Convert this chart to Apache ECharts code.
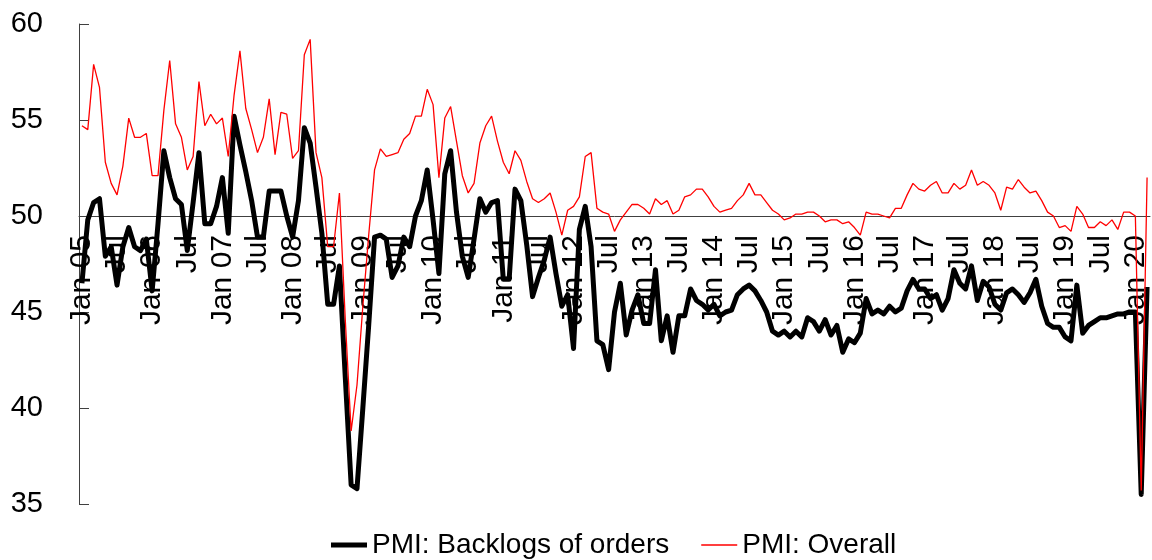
<!DOCTYPE html>
<html>
<head>
<meta charset="utf-8">
<script src="https://cdn.jsdelivr.net/npm/echarts@6/dist/echarts.min.js"></script>
<style>
html,body{margin:0;padding:0;background:#ffffff;}
#chart{width:1152px;height:560px;}
</style>
</head>
<body>
<div id="chart"></div>
<script>
// ---- categories (monthly, Jan 2005 - Mar 2020) ----
const monthNames = ['Jan','Feb','Mar','Apr','May','Jun','Jul','Aug','Sep','Oct','Nov','Dec'];
const firstYear = 2005;
const monthCount = 183;
const categories = [];
for (let i = 0; i < monthCount; i++) {
  const yy = String((firstYear + Math.floor(i / 12)) % 100).padStart(2, '0');
  categories.push(monthNames[i % 12] + ' ' + yy);
}

// ---- series values ----
const backlogs = [
  46.5, 49.8, 50.7, 50.9, 47.9, 48.4, 46.4, 48.4, 49.4, 48.4, 48.2, 48.8,
  46.1, 49.6, 53.4, 52.0, 50.9, 50.6, 48.2, 50.7, 53.3, 49.6, 49.6, 50.5,
  52.0, 49.1, 55.2, 53.7, 52.3, 50.8, 48.9, 48.9, 51.3, 51.3, 51.3, 50.0,
  48.9, 50.8, 54.6, 53.8, 51.5, 49.1, 45.4, 45.4, 47.4, 41.6, 36.0, 35.8,
  40.0, 44.3, 48.9, 49.0, 48.8, 46.8, 47.4, 48.9, 48.4, 50.0, 50.8, 52.4,
  49.8, 47.0, 52.2, 53.4, 50.2, 47.9, 46.8, 48.8, 50.9, 50.2, 50.7, 50.8,
  46.7, 46.7, 51.4, 50.8, 48.5, 45.8, 46.8, 47.7, 48.9, 47.0, 45.3, 45.9,
  43.1, 49.3, 50.5, 48.4, 43.5, 43.3, 42.0, 45.0, 46.5, 43.8, 45.1, 45.9,
  44.4, 44.4, 47.2, 43.5, 44.8, 42.9, 44.8, 44.8, 46.2, 45.6, 45.4, 45.1,
  45.4, 44.8, 45.0, 45.1, 45.9, 46.2, 46.4, 46.1, 45.6, 45.0, 44.0, 43.8,
  44.0, 43.7, 44.0, 43.7, 44.7, 44.5, 44.0, 44.6, 43.8, 44.3, 42.9, 43.6,
  43.4, 43.9, 45.7, 44.9, 45.1, 44.9, 45.3, 45.0, 45.2, 46.1, 46.7, 46.2,
  46.2, 45.7, 45.9, 45.1, 45.7, 47.2, 46.5, 46.2, 47.4, 45.6, 46.6, 46.3,
  45.4, 45.1, 46.0, 46.2, 45.9, 45.5, 46.0, 46.7, 45.3, 44.4, 44.2, 44.2,
  43.7, 43.5, 46.4, 43.9, 44.3, 44.5, 44.7, 44.7, 44.8, 44.9, 44.9, 45.0,
  45.0, 35.5, 46.3
];
const overall = [
  54.7, 54.5, 57.9, 56.7, 52.8, 51.7, 51.1, 52.6, 55.1, 54.1, 54.1, 54.3,
  52.1, 52.1, 55.5, 58.1, 54.8, 54.1, 52.4, 53.1, 57.0, 54.7, 55.3, 54.8,
  55.1, 53.1, 56.3, 58.6, 55.6, 54.5, 53.3, 54.1, 56.1, 53.2, 55.4, 55.3,
  53.0, 53.4, 58.4, 59.2, 53.3, 52.0, 48.4, 48.4, 51.2, 44.6, 38.8, 41.2,
  45.3, 49.0, 52.4, 53.5, 53.1, 53.2, 53.3, 54.0, 54.3, 55.2, 55.2, 56.6,
  55.8, 52.0, 55.1, 55.7, 53.9, 52.1, 51.2, 51.7, 53.8, 54.7, 55.2, 53.9,
  52.8, 52.2, 53.4, 52.9, 51.8, 50.9, 50.7, 50.9, 51.2, 50.2, 49.0, 50.3,
  50.5, 51.0, 53.1, 53.3, 50.4, 50.2, 50.1, 49.2, 49.8, 50.2, 50.6, 50.6,
  50.4, 50.1, 50.9, 50.6, 50.8, 50.1, 50.3, 51.0, 51.1, 51.4, 51.4, 51.0,
  50.5, 50.2, 50.3, 50.4, 50.8, 51.1, 51.7, 51.1, 51.1, 50.7, 50.3, 50.1,
  49.8, 49.9, 50.1, 50.1, 50.2, 50.2, 50.0, 49.7, 49.8, 49.8, 49.6, 49.7,
  49.4, 49.0, 50.2, 50.1, 50.1, 50.0, 49.9, 50.4, 50.4, 51.1, 51.7, 51.4,
  51.3, 51.6, 51.8, 51.2, 51.2, 51.7, 51.4, 51.6, 52.4, 51.6, 51.8, 51.6,
  51.2, 50.3, 51.5, 51.4, 51.9, 51.5, 51.2, 51.3, 50.8, 50.2, 50.0, 49.4,
  49.5, 49.2, 50.5, 50.1, 49.4, 49.4, 49.7, 49.5, 49.8, 49.3, 50.2, 50.2,
  50.0, 35.7, 52.0
];

// ---- axis ticks ----
const yMin = 35;
const yMax = 60;
const yStep = 5;
const crossValue = 50;
const labelEvery = 6;

const FONT = '"Liberation Sans", Arial, sans-serif';
const gridTop = 24, gridBottom = 56, chartH = 560;
const plotH = chartH - gridTop - gridBottom;
const xAxisOffset = -plotH * (crossValue - yMin) / (yMax - yMin);

// legend line icons: 36x28 box with a centred bar (tiny corner dots fix the box)
const thickIcon = 'path://M0,0h0.01v0.01h-0.01zM0,11.5h36v5h-36zM35.99,27.99h0.01v0.01h-0.01z';
const thinIcon = 'path://M0,0h0.01v0.01h-0.01zM0,13.35h36v1.3h-36zM35.99,27.99h0.01v0.01h-0.01z';

const chart = echarts.init(document.getElementById('chart'), null, {renderer: 'canvas'});
chart.setOption({
  animation: false,
  backgroundColor: '#ffffff',
  textStyle: {fontFamily: FONT},
  grid: {left: 79, right: 2, top: gridTop, bottom: gridBottom, containLabel: false},
  xAxis: {
    type: 'category',
    data: categories,
    boundaryGap: true,
    position: 'bottom',
    offset: xAxisOffset,
    axisLine: {show: true, lineStyle: {color: '#404040', width: 1}},
    axisTick: {show: false},
    splitLine: {show: false},
    axisLabel: {
      interval: labelEvery - 1,
      rotate: 90,
      margin: 19,
      fontSize: 30,
      color: '#000000',
      fontFamily: FONT,
      formatter: function (v) { return v.indexOf('Jul') === 0 ? 'Jul' : v; }
    }
  },
  yAxis: {
    type: 'value',
    min: yMin,
    max: yMax,
    interval: yStep,
    axisLine: {show: true, lineStyle: {color: '#404040', width: 1}},
    axisTick: {show: true, inside: true, length: 10, lineStyle: {color: '#404040', width: 1}},
    splitLine: {show: false},
    axisLabel: {margin: 36, fontSize: 29, color: '#000000', fontFamily: FONT}
  },
  legend: {
    left: 331,
    top: 531,
    padding: 0,
    itemWidth: 36,
    itemHeight: 28,
    itemGap: 32,
    textStyle: {fontSize: 28, color: '#000000', fontFamily: FONT},
    data: [
      {name: 'PMI: Backlogs of orders', icon: thickIcon, itemStyle: {color: '#000000'}},
      {name: 'PMI: Overall', icon: thinIcon, itemStyle: {color: '#ff0000'}}
    ]
  },
  series: [
    {
      name: 'PMI: Backlogs of orders',
      type: 'line',
      data: backlogs,
      symbol: 'none',
      showSymbol: false,
      lineStyle: {color: '#000000', width: 5, join: 'round'},
      itemStyle: {color: '#000000'}
    },
    {
      name: 'PMI: Overall',
      type: 'line',
      data: overall,
      symbol: 'none',
      showSymbol: false,
      lineStyle: {color: '#ff0000', width: 1.3},
      itemStyle: {color: '#ff0000'}
    }
  ]
});
</script>
</body>
</html>
